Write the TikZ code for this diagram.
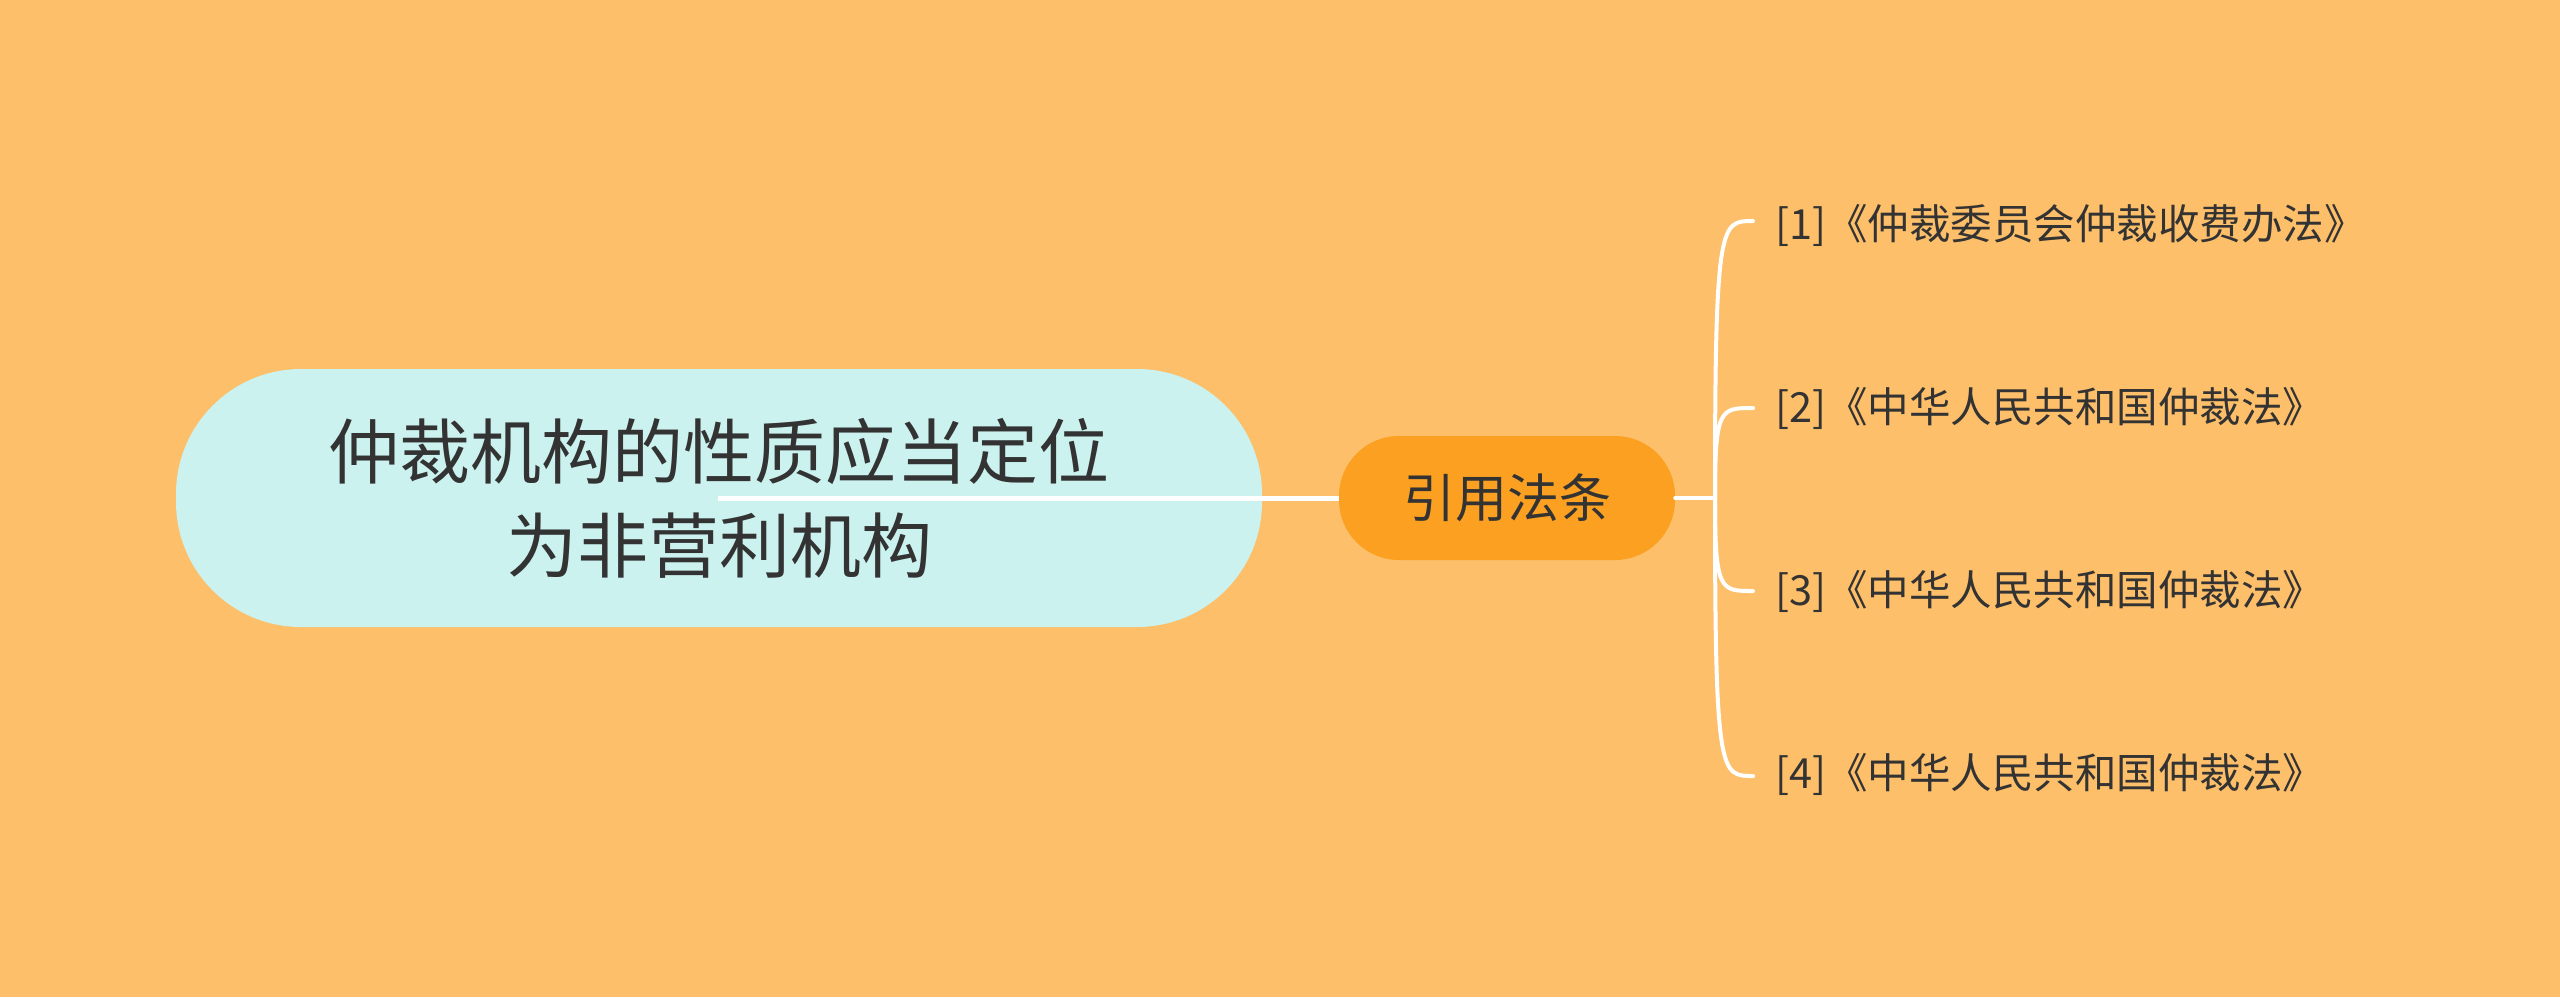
\documentclass[tikz,border=0pt]{standalone}
\usepackage{fontspec}
\setmainfont{Noto Sans CJK SC}
\definecolor{bg}{RGB}{253,191,106}
\definecolor{rootfill}{RGB}{203,242,238}
\definecolor{midfill}{RGB}{251,160,33}
\definecolor{txt}{RGB}{51,51,51}
\tikzset{
  rootbox/.style={fill=rootfill, rounded corners=125pt, minimum width=1086pt, minimum height=258pt, inner sep=0pt, align=center, text=txt, font=\fontsize{71}{94}\selectfont},
  midbox/.style={fill=midfill, rounded corners=60pt, minimum width=336pt, minimum height=124pt, inner sep=0pt, text=txt, font=\fontsize{52}{60}\selectfont},
  leaf/.style={anchor=west, inner sep=0pt, text=txt, font=\fontsize{41.5}{48}\selectfont},
  link/.style={draw=white, line width=5pt},
  branch/.style={draw=white, line width=4pt, line cap=round}
}
\begin{document}
\begin{tikzpicture}[x=1pt,y=-1pt]
\useasboundingbox (0,0) rectangle (2560,997);
\fill[bg] (0,0) rectangle (2560,997);
\node[rootbox] (root) at (719,498) {仲裁机构的性质应当定位\\为非营利机构};
\node[midbox] (mid) at (1507,498) {引用法条};
\node[leaf] (l1) at (1775,225) {[1]《仲裁委员会仲裁收费办法》};
\node[leaf] (l2) at (1775,408) {[2]《中华人民共和国仲裁法》};
\node[leaf] (l3) at (1775,591) {[3]《中华人民共和国仲裁法》};
\node[leaf] (l4) at (1775,774) {[4]《中华人民共和国仲裁法》};
\coordinate (rs) at (718,498);
\coordinate (tr) at (1715,498);
\draw[link] (rs) -- (mid.west);
\draw[branch] (mid.east) -- (tr);
\coordinate (e1) at (1753,221);
\coordinate (e2) at (1753,408);
\coordinate (e3) at (1753,591);
\coordinate (e4) at (1753,776);
\draw[branch] (tr) .. controls (1715,221) and (1720,221) .. (e1);
\draw[branch] (tr) .. controls (1715,408) and (1720,408) .. (e2);
\draw[branch] (tr) .. controls (1715,591) and (1720,591) .. (e3);
\draw[branch] (tr) .. controls (1715,776) and (1720,776) .. (e4);
\end{tikzpicture}
\end{document}
